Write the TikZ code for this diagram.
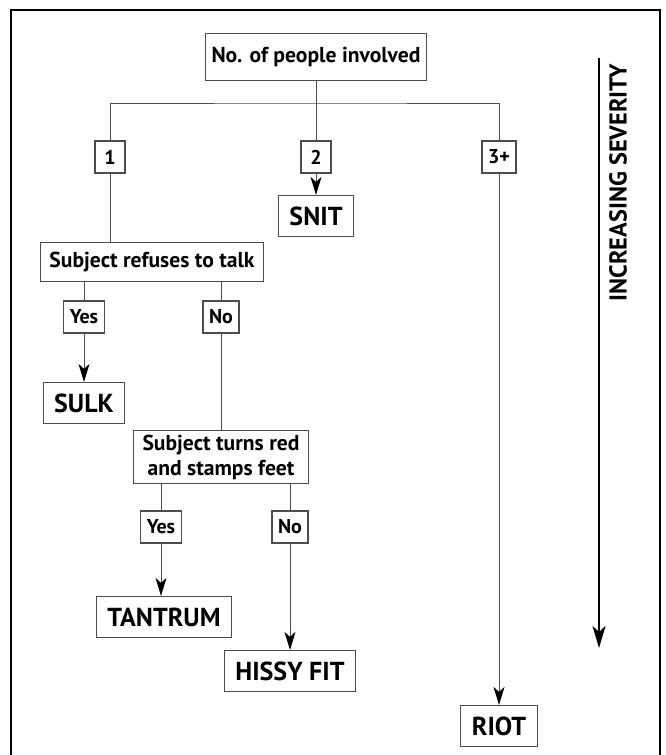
\documentclass[tikz,border=0pt]{standalone}
\usepackage{fontspec}
\setmainfont{PT Sans}[BoldFont={PT Sans Bold}]
\usepackage{tikz}
\usetikzlibrary{positioning,arrows.meta}
\definecolor{linegray}{gray}{0.3}
\tikzstyle{qs}=[%
      rectangle, draw=linegray, line width=0.6pt, fill=none,
      font=\bfseries\fontsize{10.8}{12.5}\selectfont, align=center,
      minimum height=19.5pt, inner xsep=4.5pt, inner ysep=2pt
]
\tikzstyle{res}=[%
      rectangle, draw=linegray, line width=0.6pt, fill=none,
      font=\bfseries\fontsize{13}{15}\selectfont,
      minimum height=20.5pt, inner xsep=5.5pt
]
\tikzstyle{tg}=[%
      rectangle, draw=linegray, line width=0.6pt, fill=white,
      font=\bfseries\fontsize{10}{12}\selectfont,
      minimum height=16pt, minimum width=15pt, inner xsep=3pt
]
\tikzstyle{link}=[draw=linegray, line width=0.5pt]

\begin{document}
\begin{tikzpicture}[x=0.5pt, y=-0.5pt,
    >={Stealth[length=9pt, width=5.5pt, inset=2.5pt, color=black]}
  ]
    \useasboundingbox (0,0) rectangle (665,755);
    \draw[line width=0.8pt] (11,755) -- (11,10) -- (660,10) -- (660,755);

    \node[qs, minimum height=23.5pt, inner xsep=3pt] (people) at (316,57) {No. of people involved};
    \coordinate                      (bar)    at (316,103);
    \node[tg]                        (one)    at (110,157) {1};
    \node[tg]                        (two)    at (316,157) {2};
    \node[tg]                        (three)  at (499,157) {3+};
    \node[res]                       (snit)   at (316,216) {SNIT};
    \node[qs]                        (refuse) at (152,262) {Subject refuses to talk};
    \node[tg]                        (yes1)   at (84,317)  {Yes};
    \node[tg]                        (no1)    at (221,317) {No};
    \node[res]                       (sulk)   at (84,403)  {SULK};
    \node[qs]                        (stamp)  at (221,457) {Subject turns red\\and stamps feet};
    \node[tg]                        (yes2)   at (161,527) {Yes};
    \node[tg]                        (no2)    at (290,527) {No};
    \node[res]                       (tantrum) at (164,617) {TANTRUM};
    \node[res]                       (hissy)  at (290,671) {HISSY FIT};
    \node[res]                       (riot)   at (499,726) {RIOT};

    \draw[link] (one.north) |- (bar) -| (three.north);
    \path[link] (people) edge (two)
                (two) edge[->] (snit)
                (one) edge (one |- refuse.north)
                (three) edge[->] (riot)
                (refuse.south -| yes1) edge (yes1)
                (refuse.south -| no1) edge (no1)
                (yes1) edge[->] (sulk)
                (no1) edge (stamp)
                (stamp.south -| yes2) edge (yes2)
                (stamp.south -| no2) edge (no2)
                (yes2) edge[->] (yes2 |- tantrum.north)
                (no2) edge[->] (hissy)
    ;

    % severity scale
    \coordinate (sevtop) at (599,58);
    \coordinate (sevbot) at (599,648);
    \draw[line width=1.3pt, -{Stealth[length=11pt, width=6.5pt, inset=3pt]}] (sevtop) -- (sevbot);
    \node[rotate=90, font=\bfseries\fontsize{12.2}{14}\selectfont] (sev) at (618,183) {INCREASING SEVERITY};

  \end{tikzpicture}
\end{document}
